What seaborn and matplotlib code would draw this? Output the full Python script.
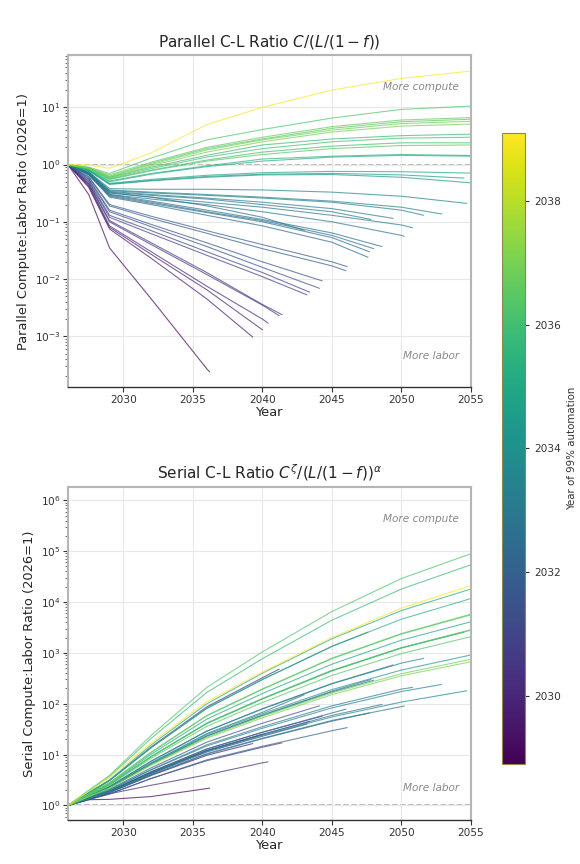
import numpy as np
import pandas as pd
import matplotlib
matplotlib.use("Agg")
import matplotlib.pyplot as plt
import matplotlib.colors as mcolors
import seaborn as sns

# knot years shared by every trajectory, each line also has its own end year
GRID_YEARS = [2026, 2027.5, 2029, 2032, 2036, 2040, 2045, 2050]

# year of 99% automation (colour) and last simulated year of each trajectory
AUTO_YEAR = [2039.1, 2036.3, 2036.7, 2036.5, 2036.9, 2037.0, 2035.8, 2036.1, 2035.9, 2036.4, 2035.4, 2035.2,
             2034.9, 2034.6, 2034.3,
             2033.6, 2033.4, 2033.3, 2033.2, 2033.0, 2033.1, 2032.9, 2032.7, 2032.6, 2032.5, 2032.4, 2032.8,
             2032.0, 2031.8, 2031.5, 2031.3, 2031.0, 2030.8, 2030.5, 2030.4, 2030.0, 2029.8, 2029.6, 2028.9]
END_YEAR = [2055, 2055, 2055, 2055, 2055, 2055, 2055, 2055, 2055, 2055, 2055, 2055,
            2055, 2054.5, 2055,
            2054.7, 2052.9, 2051.6, 2049.4, 2047.8, 2050.8, 2050.2, 2048.6, 2048.0, 2047.7, 2047.6, 2043.0,
            2046.1, 2046.0, 2044.3, 2044.1, 2043.4, 2043.2, 2041.4, 2041.2, 2040.4, 2040.0, 2039.3, 2036.2]

# parallel C-L ratio at the grid years (up to end) plus the end value
PARALLEL = [
    [1, 0.99, 0.86, 1.6, 5.0, 10, 20, 32, 43],
    [1, 0.9, 0.7, 1.3, 2.7, 4.1, 6.5, 9.2, 10.5],
    [1, 0.88, 0.66, 1.1, 2.0, 3.0, 4.6, 6.0, 6.6],
    [1, 0.87, 0.63, 1.05, 1.9, 2.8, 4.3, 5.6, 6.2],
    [1, 0.87, 0.61, 1.0, 1.8, 2.7, 4.0, 5.2, 5.7],
    [1, 0.86, 0.59, 0.95, 1.65, 2.5, 3.7, 4.7, 5.1],
    [1, 0.86, 0.6, 0.9, 1.45, 2.2, 2.8, 3.2, 3.4],
    [1, 0.85, 0.58, 0.85, 1.35, 1.9, 2.5, 2.9, 3.0],
    [1, 0.85, 0.56, 0.8, 1.2, 1.65, 2.1, 2.4, 2.4],
    [1, 0.84, 0.55, 0.78, 1.15, 1.5, 1.9, 2.15, 2.2],
    [1, 0.83, 0.52, 0.7, 0.95, 1.25, 1.4, 1.5, 1.44],
    [1, 0.82, 0.5, 0.68, 0.92, 1.15, 1.35, 1.45, 1.40],
    [1, 0.8, 0.47, 0.55, 0.65, 0.72, 0.76, 0.75, 0.71],
    [1, 0.79, 0.46, 0.53, 0.62, 0.68, 0.70, 0.66, 0.58],
    [1, 0.78, 0.45, 0.52, 0.6, 0.66, 0.67, 0.6, 0.48],
    [1, 0.75, 0.38, 0.37, 0.37, 0.36, 0.33, 0.28, 0.21],
    [1, 0.74, 0.36, 0.33, 0.3, 0.27, 0.23, 0.18, 0.137],
    [1, 0.73, 0.35, 0.32, 0.29, 0.26, 0.22, 0.16, 0.13],
    [1, 0.72, 0.34, 0.3, 0.26, 0.22, 0.17, 0.115],
    [1, 0.71, 0.33, 0.29, 0.25, 0.2, 0.15, 0.11],
    [1, 0.71, 0.32, 0.27, 0.22, 0.18, 0.13, 0.088, 0.079],
    [1, 0.7, 0.3, 0.25, 0.2, 0.15, 0.1, 0.058, 0.056],
    [1, 0.69, 0.3, 0.23, 0.16, 0.11, 0.064, 0.037],
    [1, 0.68, 0.29, 0.22, 0.15, 0.105, 0.058, 0.034],
    [1, 0.67, 0.28, 0.21, 0.145, 0.1, 0.053, 0.030],
    [1, 0.66, 0.27, 0.2, 0.13, 0.085, 0.044, 0.024],
    [1, 0.7, 0.32, 0.27, 0.19, 0.12, 0.071],
    [1, 0.62, 0.2, 0.125, 0.07, 0.04, 0.02, 0.0165],
    [1, 0.6, 0.19, 0.115, 0.063, 0.034, 0.017, 0.014],
    [1, 0.57, 0.16, 0.09, 0.043, 0.02, 0.0093],
    [1, 0.55, 0.15, 0.082, 0.037, 0.016, 0.0069],
    [1, 0.52, 0.13, 0.07, 0.03, 0.013, 0.0059],
    [1, 0.5, 0.12, 0.062, 0.026, 0.011, 0.0053],
    [1, 0.47, 0.105, 0.043, 0.013, 0.0036, 0.0024],
    [1, 0.46, 0.1, 0.04, 0.012, 0.0035, 0.0023],
    [1, 0.44, 0.085, 0.03, 0.0075, 0.002, 0.0017],
    [1, 0.42, 0.08, 0.027, 0.0065, 0.0013],
    [1, 0.4, 0.075, 0.023, 0.0045, 0.00097],
    [1, 0.3, 0.035, 0.0045, 0.00027, 0.00024],
]

# serial C-L ratio, same layout
SERIAL = [
    [1, 1.9, 3.6, 17, 110, 420, 2000, 7600, 21000],
    [1, 2.0, 3.9, 24, 210, 1050, 6500, 29000, 89000],
    [1, 1.7, 2.8, 11.3, 59, 196, 790, 2400, 5800],
    [1, 1.6, 2.6, 9.2, 42, 127, 455, 1270, 2850],
    [1, 1.5, 2.2, 6.4, 22, 57, 163, 390, 750],
    [1, 1.48, 2.2, 6.2, 21, 53, 151, 355, 670],
    [1, 1.9, 3.7, 21, 167, 770, 4400, 18000, 54000],
    [1, 1.7, 2.8, 11, 58, 192, 770, 2350, 5600],
    [1, 1.6, 2.6, 9.1, 41, 125, 445, 1250, 2800],
    [1, 1.58, 2.5, 8.5, 36, 106, 360, 970, 2090],
    [1, 1.75, 3.1, 13.8, 82, 300, 1350, 4600, 11700],
    [1, 1.8, 3.2, 15.6, 100, 400, 1900, 6800, 18000],
    [1, 1.65, 2.7, 10.2, 50, 159, 600, 1780, 4100],
    [1, 1.6, 2.6, 9.2, 41, 125, 445, 1250, 2560],
    [1, 1.5, 2.3, 6.7, 25, 64, 190, 460, 910],
    [1, 1.37, 1.87, 4.3, 11.6, 24, 55, 108, 180],
    [1, 1.41, 2.0, 5.0, 14.8, 33, 83, 174, 240],
    [1, 1.54, 2.36, 7.4, 29, 79, 247, 630, 780],
    [1, 1.54, 2.37, 7.5, 29, 80, 250, 580],
    [1, 1.5, 2.24, 6.6, 23.6, 60, 177, 300],
    [1, 1.42, 2.0, 5.1, 15.6, 35.5, 91, 194, 210],
    [1, 1.35, 1.82, 4.0, 10.5, 21, 47, 88, 90],
    [1, 1.37, 1.89, 4.4, 12, 25, 59, 97],
    [1, 1.49, 2.23, 6.5, 23, 59, 171, 290],
    [1, 1.35, 1.8, 4.0, 10.2, 20.5, 45.5, 66],
    [1, 1.75, 3.1, 13.7, 81, 300, 1340, 2560],
    [1, 1.51, 2.3, 6.9, 26, 68, 150],
    [1, 1.3, 1.7, 3.4, 7.9, 14.6, 29.5, 34],
    [1, 1.39, 1.92, 4.6, 12.9, 27.5, 66, 78],
    [1, 1.39, 1.92, 4.6, 12.9, 27.5, 57],
    [1, 1.44, 2.08, 5.5, 17.6, 41.5, 91],
    [1, 1.37, 1.88, 4.4, 12, 25, 45],
    [1, 1.36, 1.86, 4.2, 11.3, 23, 40],
    [1, 1.3, 1.68, 3.4, 7.6, 14, 17],
    [1, 1.77, 3.1, 14.2, 87, 325, 480],
    [1, 1.4, 1.7, 2.5, 4.0, 6.9, 7.2],
    [1, 1.37, 1.88, 4.4, 12, 25],
    [1, 1.34, 1.79, 3.9, 9.7, 16.5],
    [1, 1.3, 1.32, 1.5, 2.15, 2.2],
]

CBAR_MIN, CBAR_MAX = 2028.9, 2039.1
CBAR_TICKS = [2030, 2032, 2034, 2036, 2038]
X_TICKS = [2030, 2035, 2040, 2045, 2050, 2055]

rows = []
for i in range(len(AUTO_YEAR)):
    xs = [g for g in GRID_YEARS if g < END_YEAR[i]] + [END_YEAR[i]]
    for x, p, s in zip(xs, PARALLEL[i], SERIAL[i]):
        rows.append({"line": i, "auto": AUTO_YEAR[i], "year": x, "parallel": p, "serial": s})
df = pd.DataFrame(rows)

sns.set_style("whitegrid")
plt.rcParams['font.family'] = ['DejaVu Sans']

fig = plt.figure(figsize=(5.8, 8.64), dpi=100)
ax1 = fig.add_axes([0.117, 0.552, 0.695, 0.384])
ax2 = fig.add_axes([0.117, 0.051, 0.695, 0.385])
cax = fig.add_axes([0.866, 0.116, 0.040, 0.730])

norm = mcolors.Normalize(vmin=CBAR_MIN, vmax=CBAR_MAX)

panels = [
    (ax1, "parallel", r"Parallel C-L Ratio $C/(L/(1-f))$", "Parallel Compute:Labor Ratio (2026=1)", (1.3e-4, 81)),
    (ax2, "serial", r"Serial C-L Ratio $C^{\zeta}/(L/(1-f))^{\alpha}$", "Serial Compute:Labor Ratio (2026=1)", (0.52, 1.8e6)),
]

for ax, col, title, ylabel, ylim in panels:
    sns.lineplot(data=df, x="year", y=col, hue="auto", units="line", estimator=None,
                 palette="viridis", hue_norm=norm, legend=False, sort=False,
                 linewidth=0.8, alpha=0.7, ax=ax)
    ax.axhline(1, color="#aaaaaa", linestyle="--", linewidth=1.1, zorder=0)
    ax.set_yscale("log")
    ax.set_xlim(2026, 2055)
    ax.set_ylim(*ylim)
    ax.set_xticks(X_TICKS)
    ax.set_title(title, fontsize=11, color="#262626")
    ax.set_xlabel("Year", fontsize=9.4, color="#262626", labelpad=1)
    ax.set_ylabel(ylabel, fontsize=9.4, color="#262626", labelpad=3)
    ax.grid(True, which="major", color="#e8e8e8", linewidth=0.8)
    ax.grid(False, which="minor")
    ax.yaxis.set_minor_locator(matplotlib.ticker.LogLocator(base=10, subs=np.arange(2, 10), numticks=20))
    ax.tick_params(axis="both", which="major", left=True, bottom=True, labelsize=7.6, length=3.5,
                   width=0.8, color="#333333", labelcolor="#333333", pad=2)
    ax.tick_params(axis="y", which="minor", left=True, length=2, width=0.6, color="#555555")
    for name, sp in ax.spines.items():
        sp.set_color("#b5b5b5")
        sp.set_linewidth(1.5)
    ax.spines["bottom"].set_color("#333333")
    ax.spines["bottom"].set_linewidth(1.0)
    ax.text(0.97, 0.92, "More compute", transform=ax.transAxes, ha="right", va="top",
            fontsize=7.6, style="italic", color="#888888")
    ax.text(0.97, 0.08, "More labor", transform=ax.transAxes, ha="right", va="bottom",
            fontsize=7.6, style="italic", color="#888888")

sm = plt.cm.ScalarMappable(norm=norm, cmap="viridis")
sm.set_array([])
cb = fig.colorbar(sm, cax=cax, ticks=CBAR_TICKS)
cb.set_label("Year of 99% automation", fontsize=7.4, color="#333333")
cb.ax.tick_params(right=True, labelsize=7.6, length=3, color="#333333", labelcolor="#333333")
cb.outline.set_edgecolor("#8a8a50")
cb.outline.set_linewidth(0.8)

fig.savefig("out.png", dpi=100)
